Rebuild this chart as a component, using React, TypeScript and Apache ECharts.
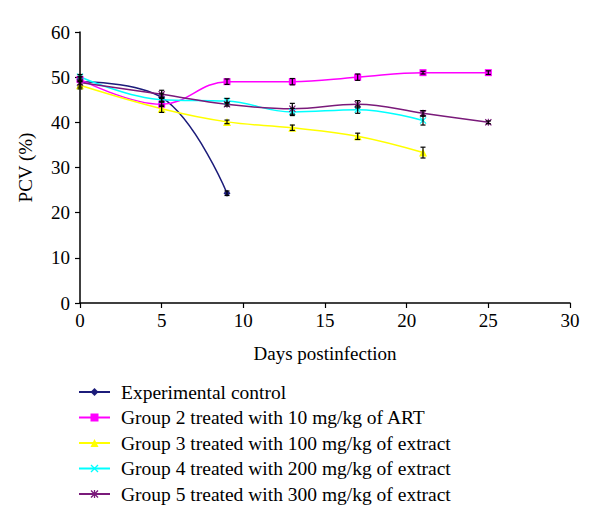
import React, { useEffect, useRef } from "react";
import * as echarts from "echarts";

const days7 = [0, 5, 9, 13, 17, 21, 25];
const seriesNames = [
  "Experimental control",
  "Group 2 treated with 10 mg/kg of ART",
  "Group 3 treated with 100 mg/kg of extract",
  "Group 4 treated with 200 mg/kg of extract",
  "Group 5 treated with 300 mg/kg of extract",
];
const controlVals = [49, 45.5, 24.3];
const art10Vals = [49.5, 44, 49, 49, 50, 51, 51];
const ext100Vals = [48.2, 43, 40.1, 38.8, 36.9, 33.3];
const ext200Vals = [50.1, 45, 44.7, 42.3, 42.8, 40.4];
const ext300Vals = [48.8, 46.2, 44, 43, 44, 42, 40];
const controlErr = [1.2, 0.8, 0.5];
const art10Err = [0.5, 0.5, 0.6, 0.7, 0.7, 0.3, 0.4];
const ext100Err = [0.8, 0.8, 0.4, 0.6, 0.7, 1.2];
const ext200Err = [0.5, 0.5, 0.6, 0.8, 0.8, 1.0];
const ext300Err = [0.5, 0.9, 0.4, 1.2, 0.8, 0.6, 0.3];
const xTicks = [0, 5, 10, 15, 20, 25, 30];
const yTicks = [0, 10, 20, 30, 40, 50, 60];

const colors = ["#1c1c7a", "#ff00ff", "#ffff00", "#00ffff", "#7a1a7a"];
const xPath =
  "path://M0,0.12 L0.12,0 L0.5,0.38 L0.88,0 L1,0.12 L0.62,0.5 L1,0.88 L0.88,1 L0.5,0.62 L0.12,1 L0,0.88 L0.38,0.5 Z";
const starPath =
  "path://M0,0.12 L0.12,0 L0.5,0.38 L0.88,0 L1,0.12 L0.62,0.5 L1,0.88 L0.88,1 L0.5,0.62 L0.12,1 L0,0.88 L0.38,0.5 Z M0.42,0 L0.58,0 L0.58,1 L0.42,1 Z";
const symbols = ["diamond", "rect", "triangle", xPath, starPath];
const symbolSizes = [7, 7, 8, 7, 7];

const allVals = [controlVals, art10Vals, ext100Vals, ext200Vals, ext300Vals];
const allErr = [controlErr, art10Err, ext100Err, ext200Err, ext300Err];

const FONT = "Liberation Serif";

export default function App() {
  const ref = useRef<HTMLDivElement>(null);
  useEffect(() => {
    if (!ref.current) return;
    const chart = echarts.init(ref.current, undefined, { renderer: "svg" });
    const lineSeries = allVals.map((vals, i) => ({
      name: seriesNames[i],
      type: "line",
      smooth: 0.4,
      data: vals.map((v, j) => [days7[j], v]),
      symbol: symbols[i],
      symbolSize: symbolSizes[i],
      lineStyle: { color: colors[i], width: 1.5 },
      itemStyle: { color: colors[i] },
      z: 2,
    }));
    const errSeries = allVals.map((vals, i) => ({
      name: seriesNames[i] + " err",
      type: "custom",
      data: vals.map((v, j) => [days7[j], v - allErr[i][j], v + allErr[i][j]]),
      encode: { x: 0, y: [1, 2] },
      z: 5,
      silent: true,
      renderItem: (params: any, api: any) => {
        const x = api.value(0);
        const lo = api.coord([x, api.value(1)]);
        const hi = api.coord([x, api.value(2)]);
        const w = 2.5;
        const st = { stroke: "#000", lineWidth: 1.2 };
        return {
          type: "group",
          children: [
            { type: "line", shape: { x1: lo[0], y1: lo[1], x2: hi[0], y2: hi[1] }, style: st },
            { type: "line", shape: { x1: lo[0] - w, y1: lo[1], x2: lo[0] + w, y2: lo[1] }, style: st },
            { type: "line", shape: { x1: hi[0] - w, y1: hi[1], x2: hi[0] + w, y2: hi[1] }, style: st },
          ],
        };
      },
    }));
    chart.setOption({
      animation: false,
      backgroundColor: "#fff",
      textStyle: { fontFamily: FONT },
      grid: { left: 72, right: 38, top: 24, bottom: 230, containLabel: false },
      xAxis: {
        type: "value",
        min: xTicks[0],
        max: xTicks[xTicks.length - 1],
        interval: 5,
        name: "Days postinfection",
        nameLocation: "middle",
        nameGap: 41,
        nameTextStyle: { fontFamily: FONT, fontSize: 19, color: "#000" },
        axisLine: { lineStyle: { color: "#000", width: 1.5 } },
        axisTick: { show: true, length: 5, lineStyle: { color: "#000", width: 1.2 } },
        axisLabel: { fontFamily: FONT, fontSize: 19, color: "#000", margin: 8 },
        splitLine: { show: false },
      },
      yAxis: {
        type: "value",
        min: yTicks[0],
        max: yTicks[yTicks.length - 1],
        interval: 10,
        name: "PCV (%)",
        nameLocation: "middle",
        nameGap: 45,
        nameTextStyle: { fontFamily: FONT, fontSize: 19, color: "#000" },
        axisLine: { show: true, lineStyle: { color: "#000", width: 1.5 } },
        axisTick: { show: true, length: 5, lineStyle: { color: "#000", width: 1.2 } },
        axisLabel: { fontFamily: FONT, fontSize: 19, color: "#000", margin: 10 },
        splitLine: { show: false },
      },
      legend: {
        data: seriesNames,
        orient: "vertical",
        left: 70,
        top: 374,
        itemWidth: 31,
        itemHeight: 10,
        itemGap: 5.5,
        padding: 0,
        textStyle: { fontFamily: FONT, fontSize: 19.5, color: "#000", padding: [0, 0, 0, 6], lineHeight: 20 },
      },
      series: [...lineSeries, ...errSeries],
    });
    return () => chart.dispose();
  }, []);
  return <div ref={ref} style={{ width: 600, height: 525 }} />;
}
